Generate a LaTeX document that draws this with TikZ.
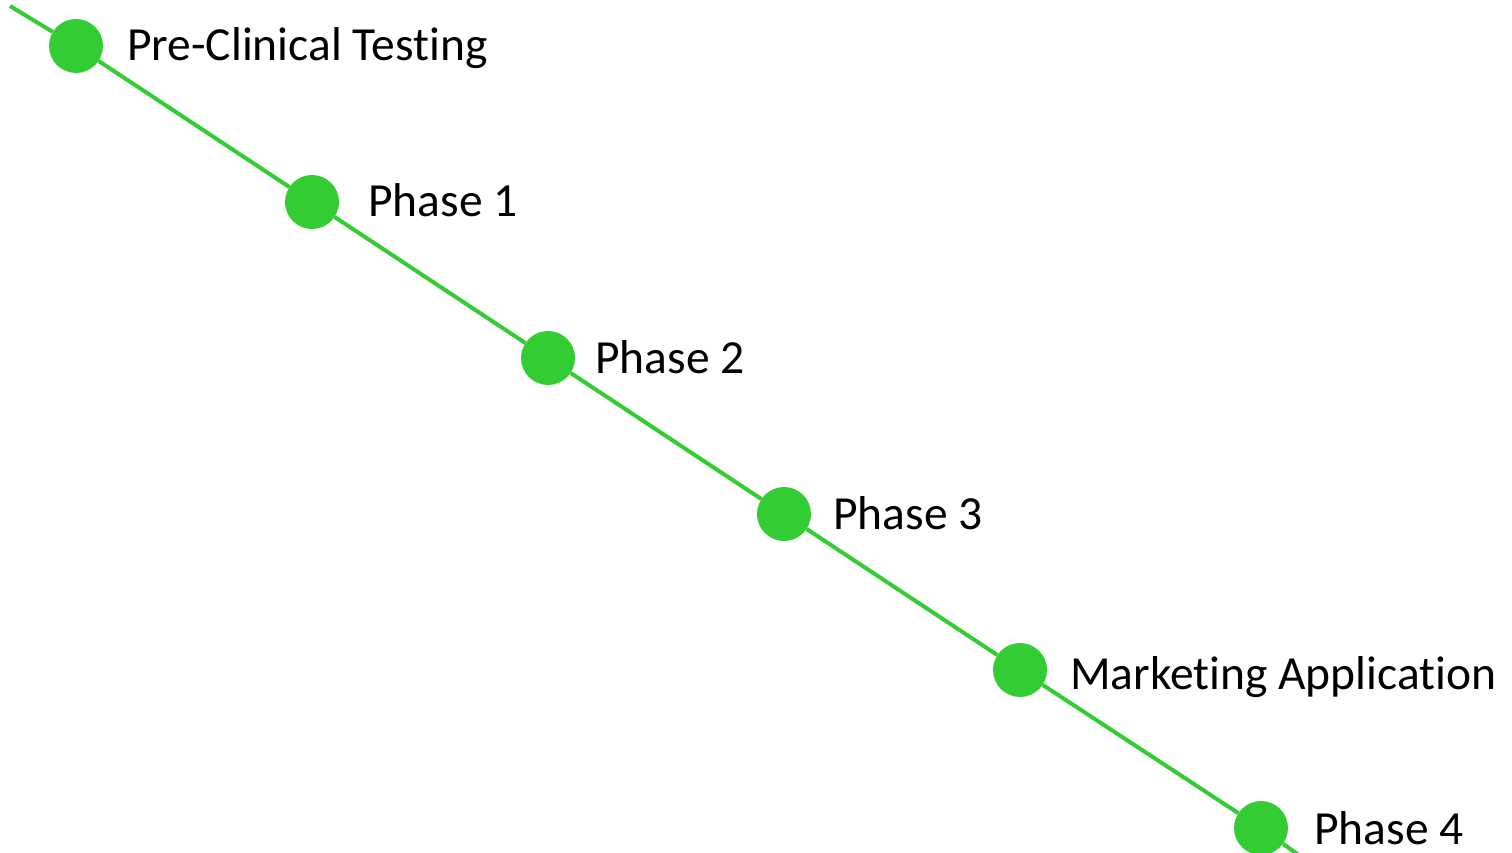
\documentclass[tikz,border=0pt]{standalone}
\usepackage{fontspec}
\setmainfont{Carlito}[Ligatures=NoCommon]
\usepackage{tikz}
\usetikzlibrary{positioning, backgrounds}
\definecolor{trackgreen}{RGB}{51,204,51}

\begin{document}
\begin{tikzpicture}[
  x=1pt, y=-1pt,
  dot/.style={circle, fill=trackgreen, minimum size=54pt, inner sep=0pt},
  stage/.style={anchor=base west, inner sep=0pt, font=\fontsize{47.5}{52}\selectfont},
  track/.style={draw=trackgreen, line width=4pt},
]
\useasboundingbox (0,0) rectangle (1512,853);
\clip (0,0) rectangle (1512,853);

% milestones along the line
\node[dot] (pre) at (76,46) {};
\node[dot] (ph1) at (312,202) {};
\node[dot] (ph2) at (548,358) {};
\node[dot] (ph3) at (784,514) {};
\node[dot] (mkt) at (1020,670) {};
\node[dot] (ph4) at (1261,828) {};

% labels
\node[stage] (lpre) at (127,61) {Pre-Clinical Testing};
\node[stage] (lph1) at (368,217) {Phase 1};
\node[stage] (lph2) at (595,373) {Phase 2};
\node[stage] (lph3) at (833,529) {Phase 3};
\node[stage] (lmkt) at (1070,689) {Marketing Application};
\node[stage] (lph4) at (1314,844) {Phase 4};

% line ends
\coordinate (start) at (10,6);
\coordinate (stop) at (1300,856);

\begin{scope}[on background layer]
\draw[track] (start) -- (pre) -- (ph1) -- (ph2) -- (ph3) -- (mkt) -- (ph4) -- (stop);
\end{scope}

\end{tikzpicture}
\end{document}
